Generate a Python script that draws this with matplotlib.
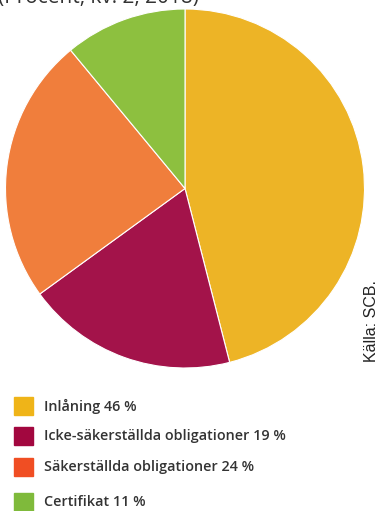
import matplotlib.pyplot as plt
from matplotlib.patches import Rectangle

W, H = 382, 511

labels = ["Inlåning", "Icke-säkerställda obligationer", "Säkerställda obligationer", "Certifikat"]
shares = [46, 19, 24, 11]
pie_colors = ["#EDB426", "#A3134A", "#F07E3C", "#8DC03F"]
swatch_colors = ["#EFB418", "#A2073F", "#F04E23", "#7FBA3B"]

plt.rcParams['font.family'] = ['Open Sans', 'DejaVu Sans']

fig = plt.figure(figsize=(W / 100, H / 100), dpi=100)

# pie centred at (185, 188.5) px, radius 179.5 px
cx, cy, r = 185, 188.5, 179.5
ax = fig.add_axes([(cx - r) / W, (H - cy - r) / H, 2 * r / W, 2 * r / H])
ax.pie(shares, colors=pie_colors, startangle=90, counterclock=False,
       radius=1, wedgeprops=dict(edgecolor="white", linewidth=0.8))
ax.set_xlim(-1, 1)
ax.set_ylim(-1, 1)
ax.set_aspect("equal")
ax.axis("off")

# title, mostly above the top edge
fig.text(-2 / W, 1 - 3 / H, "(Procent, kv. 2, 2018)", fontsize=15,
         color="#333333", va="baseline", ha="left")

fig.text(371 / W, 1 - 321 / H, "Källa: SCB.", rotation=90, fontsize=11.5,
         family=["Liberation Sans", "DejaVu Sans"],
         color="#222222", ha="center", va="center")

# legend
rows_y = [406, 436, 467, 502]
for lab, val, col, y in zip(labels, shares, swatch_colors, rows_y):
    fig.patches.append(Rectangle((14 / W, 1 - (y + 9) / H), 19 / W, 18 / H,
                                 transform=fig.transFigure, color=col))
    fig.text(44 / W, 1 - y / H, f"{lab} {val} %", fontsize=10.4,
             fontweight="semibold", color="#333333", va="center", ha="left")

fig.savefig("out.png", dpi=100)
